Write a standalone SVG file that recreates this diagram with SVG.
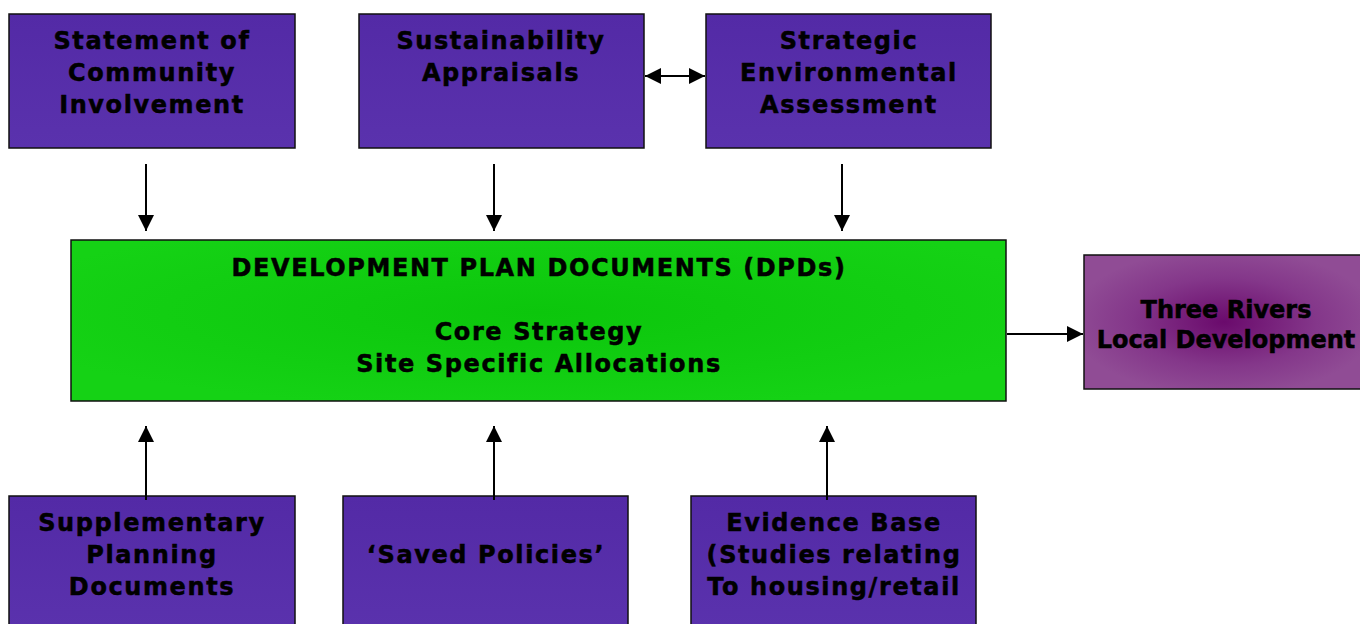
<svg xmlns="http://www.w3.org/2000/svg" width="1360" height="624" viewBox="0 0 1360 624">
<defs>
<linearGradient id="gPurple" x1="0" y1="0" x2="0" y2="1">
<stop offset="0" stop-color="#532aa6"/>
<stop offset="1" stop-color="#5a32ad"/>
</linearGradient>
<radialGradient id="gGreen" cx="0.5" cy="0.45" r="0.6">
<stop offset="0" stop-color="#0cc60c"/>
<stop offset="1" stop-color="#15d215"/>
</radialGradient>
<radialGradient id="gMag" cx="0.5" cy="0.5" r="0.55">
<stop offset="0" stop-color="#6a0a6c"/>
<stop offset="0.6" stop-color="#84378a"/>
<stop offset="1" stop-color="#904c95"/>
</radialGradient>
<marker id="ah" viewBox="0 0 10 10" refX="10" refY="5" markerWidth="16" markerHeight="16" markerUnits="userSpaceOnUse" orient="auto-start-reverse">
<path d="M0,0 L10,5 L0,10 Z" fill="#000"/>
</marker>
</defs>
<style>
.box{fill:url(#gPurple);stroke:#111;stroke-width:1.5}
.t{font-family:"DejaVu Sans",Verdana,sans-serif;font-weight:bold;font-size:24px;letter-spacing:1.6px;fill:#000;stroke:#000;stroke-width:0.5;text-anchor:middle}
.n{letter-spacing:0}
.c{stroke:#000;stroke-width:2;fill:none}
</style>
<rect width="1360" height="624" fill="#fff"/>
<g id="sci">
<rect class="box" x="9" y="14" width="286" height="134"/>
<text class="t" x="152" y="49">Statement of</text>
<text class="t" x="152" y="81">Community</text>
<text class="t" x="152" y="113">Involvement</text>
</g>
<g id="sa">
<rect class="box" x="359" y="14" width="285" height="134"/>
<text class="t" x="501" y="49">Sustainability</text>
<text class="t" x="501" y="81">Appraisals</text>
</g>
<g id="sea">
<rect class="box" x="706" y="14" width="285" height="134"/>
<text class="t" x="849" y="49">Strategic</text>
<text class="t" x="849" y="81">Environmental</text>
<text class="t" x="849" y="113">Assessment</text>
</g>
<g id="dpd">
<rect x="71" y="240" width="935" height="161" fill="url(#gGreen)" stroke="#111" stroke-width="1.5"/>
<text class="t" x="539" y="276">DEVELOPMENT PLAN DOCUMENTS (DPDs)</text>
<text class="t" x="539" y="340">Core Strategy</text>
<text class="t" x="539" y="372">Site Specific Allocations</text>
</g>
<g id="trld">
<rect x="1084" y="255" width="280" height="134" fill="url(#gMag)" stroke="#111" stroke-width="1.5"/>
<text class="t n" x="1226" y="318">Three Rivers</text>
<text class="t n" x="1226" y="348">Local Development</text>
</g>
<g id="spd">
<rect class="box" x="9" y="496" width="286" height="134"/>
<text class="t" x="152" y="531">Supplementary</text>
<text class="t" x="152" y="563">Planning</text>
<text class="t" x="152" y="595">Documents</text>
</g>
<g id="saved">
<rect class="box" x="343" y="496" width="285" height="134"/>
<text class="t" x="486" y="563">‘Saved Policies’</text>
</g>
<g id="evidence">
<rect class="box" x="691" y="496" width="285" height="134"/>
<text class="t" x="834" y="531">Evidence Base</text>
<text class="t" x="834" y="563">(Studies relating</text>
<text class="t" x="834" y="595">To housing/retail</text>
</g>
<g id="connectors">
<line class="c" x1="645" y1="76" x2="705" y2="76" marker-start="url(#ah)" marker-end="url(#ah)"/>
<line class="c" x1="146" y1="164" x2="146" y2="231" marker-end="url(#ah)"/>
<line class="c" x1="494" y1="164" x2="494" y2="231" marker-end="url(#ah)"/>
<line class="c" x1="842" y1="164" x2="842" y2="231" marker-end="url(#ah)"/>
<line class="c" x1="1007" y1="334" x2="1083" y2="334" marker-end="url(#ah)"/>
<line class="c" x1="146" y1="500" x2="146" y2="426" marker-end="url(#ah)"/>
<line class="c" x1="494" y1="500" x2="494" y2="426" marker-end="url(#ah)"/>
<line class="c" x1="827" y1="500" x2="827" y2="426" marker-end="url(#ah)"/>
</g>
</svg>
